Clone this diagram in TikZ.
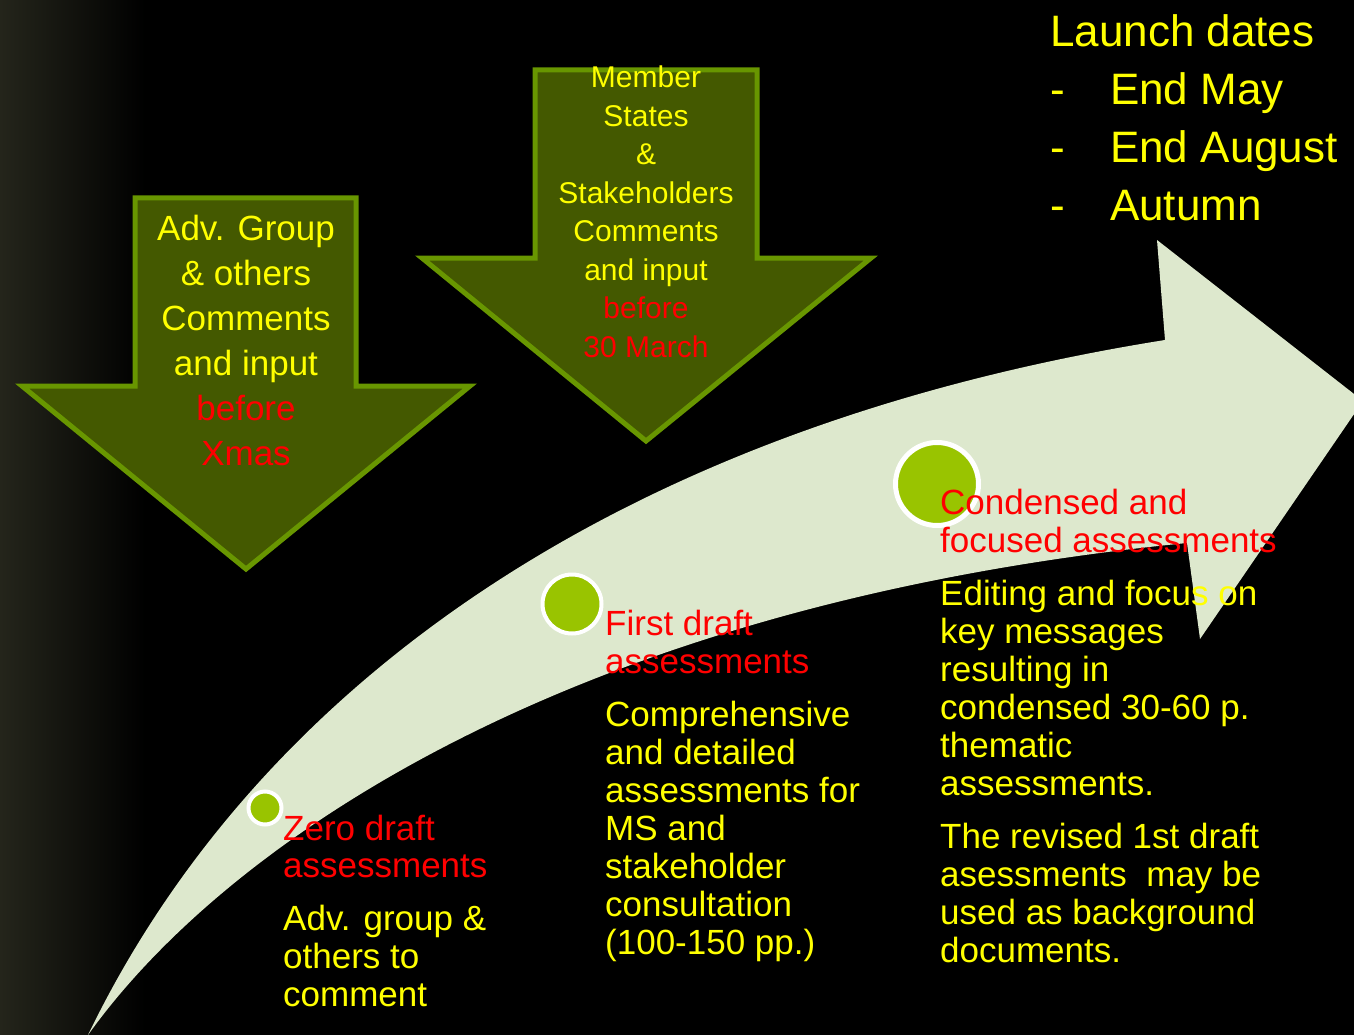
\documentclass[tikz,border=0pt]{standalone}
\usepackage{fontspec}
\setmainfont{Liberation Sans}
\usepackage{xcolor}

\definecolor{band}{RGB}{221,232,205}
\definecolor{dotgreen}{RGB}{153,196,0}
\definecolor{boxfill}{RGB}{68,89,0}
\definecolor{boxline}{RGB}{104,150,0}
\definecolor{edgegrey}{RGB}{36,37,27}
\definecolor{txtyellow}{RGB}{255,255,0}
\definecolor{txtred}{RGB}{255,0,0}

\begin{document}
\begin{tikzpicture}[x=1pt,y=-1pt,
    dot/.style={circle,fill=dotgreen,draw=white,line width=4pt,inner sep=0pt},
    stagetext/.style={anchor=north west,inner sep=0pt,align=left,font=\fontsize{35}{38}\selectfont},
    downbox/.style={fill=boxfill,draw=boxline,line width=5pt,line join=miter},
    boxtext/.style={anchor=north,inner sep=0pt,align=center,text=txtyellow}]

    \fill[black] (0,0) rectangle (1354,1035);
    \shade[left color=edgegrey,right color=black] (0,0) rectangle (145,1035);
    \useasboundingbox (0,0) rectangle (1354,1035);

    \draw[downbox] (135,198) -- (356,198) -- (356,386) -- (470,386) -- (246,569) -- (22,386) -- (135,386) -- cycle;
    \draw[downbox] (535,70) -- (757,70) -- (757,258) -- (871,258) -- (646,441) -- (422,258) -- (535,258) -- cycle;

    \fill[band] (88,1035) .. controls (250,700) and (600,430) .. (1165,340) -- (1157,240) -- (1363,401)
        -- (1200,639) -- (1187,543) .. controls (560,605) and (220,850) .. (88,1035) -- cycle;

    \node (zero) at (265,808) [dot,minimum size=33pt] {};
    \node (first) at (572,604) [dot,minimum size=59pt] {};
    \node (cond) at (937,484) [dot,minimum size=83pt,line width=5pt] {};

    \node (advbox) at (246,215) [boxtext,font=\fontsize{35}{45}\selectfont]
        {Adv. Group\\ \& others\\ Comments\\ and input\\ \textcolor{txtred}{before}\\ \textcolor{txtred}{Xmas}};
    \node (msbox) at (646,66) [boxtext,font=\fontsize{30}{38.5}\selectfont]
        {Member\\ States\\ \&\\ Stakeholders\\ Comments\\ and input\\ \textcolor{txtred}{before}\\ \textcolor{txtred}{30 March}};

    \node (launch) at (1050,14) [anchor=north west,inner sep=0pt,align=left,text=txtyellow,font=\fontsize{44}{58}\selectfont]
        {Launch dates\\ \makebox[60pt][l]{-}End May\\ \makebox[60pt][l]{-}End August\\ \makebox[60pt][l]{-}Autumn};

    \node (zerotitle) at (283,815) [stagetext,text=txtred,font=\fontsize{35}{37}\selectfont] {Zero draft\\ assessments};
    \node (zerotext) at (283,905) [stagetext,text=txtyellow] {Adv. group \&\\ others to\\ comment};

    \node (firsttitle) at (605,610) [stagetext,text=txtred] {First draft\\ assessments};
    \node (firsttext) at (605,701) [stagetext,text=txtyellow]
        {Comprehensive\\ and detailed\\ assessments for\\ MS and\\ stakeholder\\ consultation\\ (100-150 pp.)};

    \node (condtitle) at (940,489) [stagetext,text=txtred] {Condensed and\\ focused assessments};
    \node (condtext) at (940,580) [stagetext,text=txtyellow]
        {Editing and focus on\\ key messages\\ resulting in\\ condensed 30-60 p.\\ thematic\\ assessments.};
    \node (condnote) at (940,823) [stagetext,text=txtyellow]
        {The revised 1st draft\\ asessments~ may be\\ used as background\\ documents.};

\end{tikzpicture}
\end{document}
